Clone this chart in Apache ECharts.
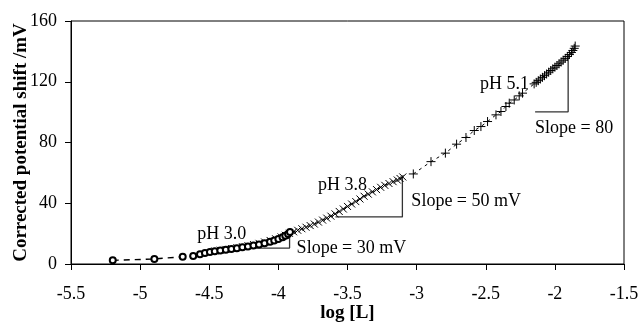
<!DOCTYPE html>
<html>
<head>
<meta charset="utf-8">
<script src="https://cdn.jsdelivr.net/npm/echarts@6/dist/echarts.min.js"></script>
<style>html,body{margin:0;padding:0;background:#fff}#c{width:639px;height:325px}</style>
</head>
<body>
<div id="c"></div>
<script>
// X tick range
var xMin = -5.5, xMax = -1.5, xStep = 0.5;
var yMin = 0, yMax = 160, yStep = 40;

// pH 3.0 (circles)
var ph30_x = [-5.198,-4.897,-4.692,-4.616,-4.567,-4.531,-4.495,-4.46,-4.42,-4.38,-4.34,-4.30,-4.26,-4.22,-4.18,-4.14,-4.10,-4.06,-4.03,-4.00,-3.97,-3.95,-3.93,-3.916];
var ph30_y = [2.4,3.3,4.8,5.3,6.4,7.2,7.9,8.4,8.9,9.4,9.9,10.4,11.0,11.6,12.2,12.9,13.7,14.6,15.5,16.5,17.6,18.6,19.8,21.0];

// pH 3.8 (x-crosses)
var ph38_x = [-4.46,-4.42,-4.38,-4.34,-4.30,-4.26,-4.22,-4.18,-4.14,-4.10,-4.06,-4.02,-3.98,-3.95,-3.92,-3.89,-3.86,-3.83,-3.80,-3.77,-3.74,-3.71,-3.68,-3.65,-3.62,-3.59,-3.56,-3.53,-3.50,-3.47,-3.44,-3.41,-3.38,-3.35,-3.32,-3.29,-3.26,-3.23,-3.20,-3.17,-3.14,-3.12,-3.10];
var ph38_y = [8.6,9.1,9.6,10.2,10.8,11.4,12.1,12.8,13.6,14.5,15.5,16.6,17.8,18.9,20.2,21.2,22.2,23.2,24.2,25.3,26.3,27.6,28.9,30.2,31.5,33.0,34.6,36.2,37.9,39.5,41.1,42.8,44.6,46.0,47.5,49.0,50.5,51.8,53.0,54.2,55.3,56.3,57.3];

// pH 5.1 (plus)
var ph51_x = [-3.024,-2.896,-2.792,-2.711,-2.643,-2.583,-2.535,-2.487,-2.426,-2.390,-2.354,-2.330,-2.294,-2.258,-2.234,-2.15,-2.135,-2.12,-2.105,-2.09,-2.075,-2.06,-2.045,-2.03,-2.015,-2.00,-1.985,-1.97,-1.955,-1.94,-1.925,-1.91,-1.895,-1.88,-1.87,-1.86,-1.853];
var ph51_y = [59.3,67.4,73.0,78.9,83.3,87.9,90.5,93.8,98.2,100.4,103.7,105.9,108.0,110.7,112.5,118.6,119.6,120.7,121.8,122.9,124.0,125.1,126.3,127.4,128.5,129.6,130.7,131.8,133.0,134.2,135.4,136.6,137.9,139.3,140.6,142.0,143.5];

// slope triangles (data coordinates)
var tri30 = [[-4.186,10.5],[-3.919,10.5],[-3.919,22.0]];
var tri38 = [[-3.587,31.0],[-3.103,31.0],[-3.103,57.3]];
var tri51 = [[-2.143,100.2],[-1.904,100.2],[-1.904,137.7]];

// annotation texts: [text, x, y, align]
var notes = [
  ['pH 3.0', -4.410, 19.8, 'center'],
  ['Slope = 30 mV', -3.868, 10.5, 'left'],
  ['pH 3.8', -3.536, 52.1, 'center'],
  ['Slope = 50 mV', -3.038, 41.5, 'left'],
  ['pH 5.1', -2.365, 118.5, 'center'],
  ['Slope = 80', -2.143, 89.6, 'left']
];

function zip(a, b) { return a.map(function (v, i) { return [v, b[i]]; }); }

var FONT = '"Liberation Serif","Times New Roman",serif';
var chart = echarts.init(document.getElementById('c'), null, {renderer: 'canvas'});

function triSeries(d) {
  return {type: 'line', data: d, symbol: 'none', silent: true, z: 1,
    lineStyle: {color: '#333', width: 1.3, type: 'solid'}};
}

var option = {
  animation: false,
  grid: {left: 71, right: 15, top: 21, bottom: 61, show: true, borderColor: '#000', borderWidth: 1,
    backgroundColor: 'transparent', containLabel: false, outerBoundsMode: 'none'},
  xAxis: {
    type: 'value', min: xMin, max: xMax, interval: xStep,
    axisLine: {lineStyle: {color: '#000', width: 1}},
    axisTick: {inside: false, length: 6, lineStyle: {color: '#000'}},
    splitLine: {show: false},
    axisLabel: {color: '#000', fontFamily: FONT, fontSize: 18, margin: 21},
    name: 'log [L]', nameLocation: 'middle', nameGap: 40, nameMoveOverlap: false,
    nameTextStyle: {color: '#000', fontFamily: FONT, fontSize: 19, fontWeight: 'bold'}
  },
  yAxis: {
    type: 'value', min: yMin, max: yMax, interval: yStep,
    axisLine: {show: true, lineStyle: {color: '#000', width: 1}},
    axisTick: {show: true, inside: false, length: 6, lineStyle: {color: '#000'}},
    splitLine: {show: false},
    axisLabel: {color: '#000', fontFamily: FONT, fontSize: 18, margin: 14},
    name: 'Corrected potential shift /mV', nameLocation: 'middle', nameGap: 40, nameMoveOverlap: false,
    nameTextStyle: {color: '#000', fontFamily: FONT, fontSize: 19, fontWeight: 'bold'}
  },
  series: [
    {type: 'line', name: 'pH 3.0', data: zip(ph30_x, ph30_y), symbol: 'emptyCircle', symbolSize: 6, showAllSymbol: true,
      itemStyle: {color: '#000', borderWidth: 1}, lineStyle: {color: '#000', width: 1.4, type: [6, 5]}, z: 3},
    {type: 'line', name: 'pH 3.8', data: zip(ph38_x, ph38_y), symbol: 'path://M0,0L10,10M10,0L0,10', symbolSize: 7, showAllSymbol: true,
      itemStyle: {color: 'rgba(0,0,0,0)', borderColor: '#000', borderWidth: 1}, lineStyle: {color: '#000', width: 1, type: [4, 4]}, z: 2},
    {type: 'line', name: 'pH 5.1', data: zip(ph51_x, ph51_y), symbol: 'path://M5,0L5,10M0,5L10,5', symbolSize: 9, showAllSymbol: true,
      itemStyle: {color: 'rgba(0,0,0,0)', borderColor: '#000', borderWidth: 1}, lineStyle: {color: '#000', width: 1, type: [3, 4]}, z: 2},
    triSeries(tri30), triSeries(tri38), triSeries(tri51)
  ]
};
chart.setOption(option);

var g = notes.map(function (n) {
  var p = chart.convertToPixel({gridIndex: 0}, [n[1], n[2]]);
  return {type: 'text', x: p[0], y: p[1], z: 10,
    style: {text: n[0], fill: '#000', font: '18px ' + FONT, textAlign: n[3], textVerticalAlign: 'middle', align: n[3], verticalAlign: 'middle'}};
});
chart.setOption({graphic: g});
</script>
</body>
</html>
